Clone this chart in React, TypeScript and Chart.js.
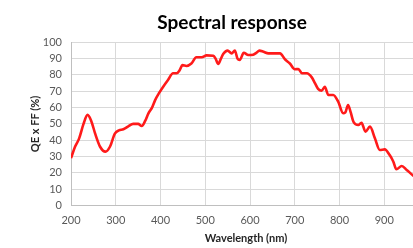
import React, { useEffect, useRef } from "react";
import { Chart, registerables } from "chart.js";

Chart.register(...registerables);

const wavelengths = [
  200, 209, 218, 228, 237, 245, 254, 265, 277, 287, 298, 307, 317, 328, 339, 350, 358, 366, 373, 381,
  388, 397, 406, 417, 428, 436, 443, 449, 458, 469, 480, 492, 503, 518, 523, 529, 535, 540, 550, 559,
  566, 572, 577, 586, 596, 607, 614, 621, 630, 641, 655, 667, 678, 689, 700, 708, 716, 727, 738, 745,
  752, 760, 767, 775, 786, 797, 808, 813, 819, 825, 831, 842, 849, 858, 868, 879, 890, 901, 912, 920,
  927, 939, 950, 963, 975,
];
const qeff = [
  29, 36, 41, 50, 55.5, 52, 44, 36, 33, 36, 44, 46, 46.7, 48.5, 50, 50, 48.7, 52, 56.5, 60,
  64.6, 69, 72.8, 77, 81, 81, 83, 86, 85.5, 87, 90.8, 90.8, 92, 91.8, 90, 86.7, 90, 92.8, 94.9, 93.2,
  94.9, 90, 89.2, 93.6, 92.2, 92.4, 93.5, 94.9, 94.2, 93.2, 93.2, 93.2, 89.6, 87, 83.5, 83.6, 81, 81, 78.5, 75,
  71.5, 70.3, 72.8, 67.7, 67.7, 63.6, 56.5, 57, 61.6, 57, 51.3, 49.3, 50.7, 45.2, 48.3, 41.2, 34, 34.4, 30.9, 27,
  22.2, 24.2, 21.8, 18.7, 16,
];
const xTicks = [200, 300, 400, 500, 600, 700, 800, 900];
const yTicks = [0, 10, 20, 30, 40, 50, 60, 70, 80, 90, 100];

const chartTitle = "Spectral response";
const xTitle = "Wavelength (nm)";
const yTitle = "QE x FF (%)";

const FONT = "Lato, 'Open Sans', sans-serif";

export default function App() {
  const ref = useRef<HTMLCanvasElement | null>(null);

  useEffect(() => {
    if (!ref.current) return;
    const chart = new Chart(ref.current, {
      type: "line",
      data: {
        datasets: [
          {
            data: wavelengths.map((w, i) => ({ x: w, y: qeff[i] })),
            borderColor: "#ff1a1a",
            borderWidth: 2.6,
            pointRadius: 0,
            tension: 0.4,
            cubicInterpolationMode: "monotone",
            fill: false,
          },
        ],
      },
      options: {
        animation: false,
        responsive: false,
        maintainAspectRatio: false,
        layout: { padding: { left: 43, right: 43, top: 0, bottom: 0 } },
        plugins: {
          legend: { display: false },
          tooltip: { enabled: false },
          title: {
            display: true,
            text: chartTitle,
            color: "#000000",
            font: { family: FONT, size: 19, weight: "bold", lineHeight: 1.2 },
            padding: { top: 11.4, bottom: 8.1 },
          },
        },
        scales: {
          x: {
            type: "linear",
            min: 200,
            max: 982,
            afterBuildTicks: (s: any) => {
              s.ticks = xTicks.map((v) => ({ value: v }));
            },
            afterFit: (s: any) => {
              s.height = 42.5;
            },
            grid: { color: "#d9d9d9", drawTicks: false, lineWidth: 1 },
            border: { color: "#bfbfbf", width: 1 },
            ticks: {
              color: "#595959",
              padding: 8,
              maxRotation: 0,
              font: { family: FONT, size: 11, lineHeight: 1.2 },
            },
            title: {
              display: true,
              text: xTitle,
              color: "#262626",
              font: { family: FONT, size: 11, weight: "bold", lineHeight: 1.2 },
              padding: { top: 0, bottom: 2.6 },
            },
          },
          y: {
            min: 0,
            max: 100,
            afterBuildTicks: (s: any) => {
              s.ticks = yTicks.map((v) => ({ value: v }));
            },
            afterFit: (s: any) => {
              s.width = 28;
            },
            grid: { color: "#d9d9d9", drawTicks: false, lineWidth: 1 },
            border: { color: "#bfbfbf", width: 1 },
            ticks: {
              color: "#595959",
              padding: 9,
              font: { family: FONT, size: 11, lineHeight: 1.2 },
            },
            title: {
              display: true,
              text: yTitle,
              color: "#262626",
              font: { family: FONT, size: 11, weight: "bold", lineHeight: 1.2 },
              padding: { top: -14.6, bottom: 0 },
            },
          },
        },
      },
    });
    return () => chart.destroy();
  }, []);

  return (
    <div
      style={{
        position: "absolute",
        left: 0,
        top: 0,
        width: 413,
        height: 248,
        overflow: "hidden",
        background: "#ffffff",
      }}
    >
      <canvas ref={ref} width={464} height={248} style={{ display: "block", width: 464, height: 248 }} />
    </div>
  );
}
